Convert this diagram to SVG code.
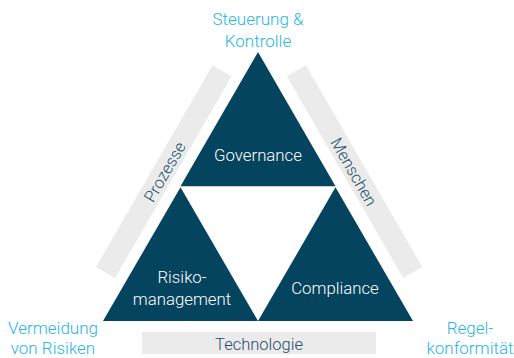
<svg xmlns="http://www.w3.org/2000/svg" width="514" height="358" viewBox="0 0 514 358">
<style>
.tri{fill:#05445e}
.bar{fill:#ebebeb}
text{font-family:Roboto,"Liberation Sans",sans-serif;font-weight:300;text-anchor:middle}
.w{fill:#ffffff;font-size:16.8px}
.b{fill:#29b5e8;font-size:17px}
.g{fill:#1f4f6b;font-size:16.5px}
</style>
<rect width="514" height="358" fill="#ffffff"/>
<g id="bar-prozesse">
<rect class="bar" x="-116.5" y="-11" width="233" height="22" transform="translate(163.8,171.7) rotate(-60)"/>
<text class="g" transform="translate(165,172) rotate(-60)" dy="5.5">Prozesse</text>
</g>
<g id="bar-menschen">
<rect class="bar" x="-116.5" y="-11" width="233" height="22" transform="translate(354.6,171.7) rotate(60)"/>
<text class="g" transform="translate(353.5,172) rotate(60)" dy="5.5">Menschen</text>
</g>
<g id="bar-technologie">
<rect class="bar" x="142" y="332" width="234" height="22"/>
<text class="g" x="259" y="350">Technologie</text>
</g>
<g id="governance">
<polygon class="tri" points="258,52 335.5,186.3 180.5,186.3"/>
<text class="w" x="258" y="161">Governance</text>
</g>
<g id="risikomanagement">
<polygon class="tri" points="180.5,187.3 258,321 103,321"/>
<text class="w" x="182" y="283">Risiko-</text>
<text class="w" x="182" y="305">management</text>
</g>
<g id="compliance">
<polygon class="tri" points="335.5,187.3 413,321 258,321"/>
<text class="w" x="335" y="294">Compliance</text>
</g>
<g id="steuerung">
<text class="b" x="258" y="25">Steuerung &amp;</text>
<text class="b" x="258" y="47">Kontrolle</text>
</g>
<g id="vermeidung">
<text class="b" x="53" y="334">Vermeidung</text>
<text class="b" x="53" y="354">von Risiken</text>
</g>
<g id="regelkonformitaet">
<text class="b" x="470" y="334">Regel-</text>
<text class="b" x="470" y="354">konformität</text>
</g>
<g id="connectors"></g>
</svg>
